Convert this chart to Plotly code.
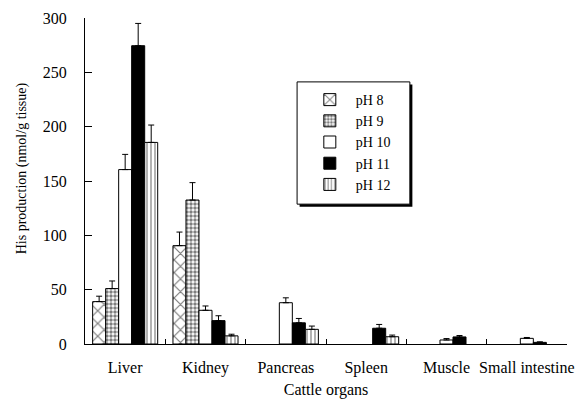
import plotly.graph_objects as go

categories = ["Liver", "Kidney", "Pancreas", "Spleen", "Muscle", "Small intestine"]
series_names = ["pH 8", "pH 9", "pH 10", "pH 11", "pH 12"]

ph8 = [39, 90.5, None, None, None, None]
ph8_sd = [5, 12.5, None, None, None, None]
ph9 = [51, 132.5, None, None, None, None]
ph9_sd = [7, 16, None, None, None, None]
ph10 = [160.5, 31, 38, None, 3.7, 5.2]
ph10_sd = [14, 4, 4.5, None, 1.3, 0.8]
ph11 = [274.5, 21.5, 19.5, 14.5, 6.5, 1.5]
ph11_sd = [20.5, 4.5, 4, 3.5, 1.3, 0.5]
ph12 = [185.5, 7.5, 13.5, 6.7, None, None]
ph12_sd = [16, 1.5, 3, 1.5, None, None]

y_ticks = [0, 50, 100, 150, 200, 250, 300]

values = [ph8, ph9, ph10, ph11, ph12]
sds = [ph8_sd, ph9_sd, ph10_sd, ph11_sd, ph12_sd]

styles = [
    dict(color="white", marker_pattern=dict(shape="x", fgcolor="black", bgcolor="white", size=9, solidity=0.25, fillmode="overlay")),
    dict(color="white", marker_pattern=dict(shape=".", fgcolor="black", bgcolor="white", size=4, solidity=0.6, fillmode="overlay")),
    dict(color="white", marker_pattern=None),
    dict(color="black", marker_pattern=None),
    dict(color="white", marker_pattern=dict(shape="|", fgcolor="black", bgcolor="white", size=4, solidity=0.3, fillmode="overlay")),
]

FONT = "Liberation Serif, Times New Roman, serif"

fig = go.Figure()
for name, v, sd, st in zip(series_names, values, sds, styles):
    marker = dict(color=st["color"], line=dict(color="black", width=1))
    if st["marker_pattern"] is not None:
        marker["pattern"] = st["marker_pattern"]
    fig.add_trace(go.Bar(
        x=categories, y=v, name=name, marker=marker,
        error_y=dict(type="data", array=sd, arrayminus=[0] * len(sd), symmetric=False,
                     color="black", thickness=1, width=3),
    ))

# legend frame with drop shadow (paper coordinates)
bx0, bx1, by0, by1 = 0.440, 0.674, 0.429, 0.804
sdx, sdy = 0.0052, 0.0080
shapes = [
    dict(type="rect", xref="paper", yref="paper", x0=bx0 + sdx, x1=bx1 + sdx, y0=by0 - sdy, y1=by1 - sdy,
         fillcolor="black", line=dict(width=0), layer="above"),
    dict(type="rect", xref="paper", yref="paper", x0=bx0, x1=bx1, y0=by0, y1=by1,
         fillcolor="white", line=dict(color="black", width=1), layer="above"),
]

fig.update_layout(
    width=576, height=400,
    margin=dict(l=85, r=9, t=18, b=56),
    paper_bgcolor="white", plot_bgcolor="white",
    barmode="group", bargap=0.19, bargroupgap=0,
    font=dict(family=FONT, size=16, color="black"),
    showlegend=True,
    legend=dict(x=0.454, y=0.7975, xanchor="left", yanchor="top",
                bgcolor="rgba(0,0,0,0)", borderwidth=0,
                font=dict(family=FONT, size=14, color="black"),
                tracegroupgap=0, itemwidth=42),
    shapes=shapes,
    xaxis=dict(showline=True, linecolor="black", linewidth=1, ticks="inside", ticklen=5,
               tickson="boundaries", tickcolor="black", showgrid=False, automargin=False,
               tickangle=0, tickfont=dict(size=16), ticklabelstandoff=9,
               title=dict(text="Cattle organs", font=dict(size=16), standoff=7)),
    yaxis=dict(range=[0, 300], tickvals=y_ticks, showline=True, linecolor="black", linewidth=1,
               ticks="inside", ticklen=7, tickcolor="black", showgrid=False, zeroline=False,
               automargin=False, tickfont=dict(size=16), ticklabelstandoff=14),
    annotations=[dict(text="His production (nmol/g tissue)", xref="paper", yref="paper",
                      x=-0.13, y=0.54, xanchor="center", yanchor="middle", textangle=-90,
                      showarrow=False, font=dict(family=FONT, size=14, color="black"))],
)

fig.write_html("out.html", config={"displayModeBar": False},
               post_script="document.body.style.margin='0';")
